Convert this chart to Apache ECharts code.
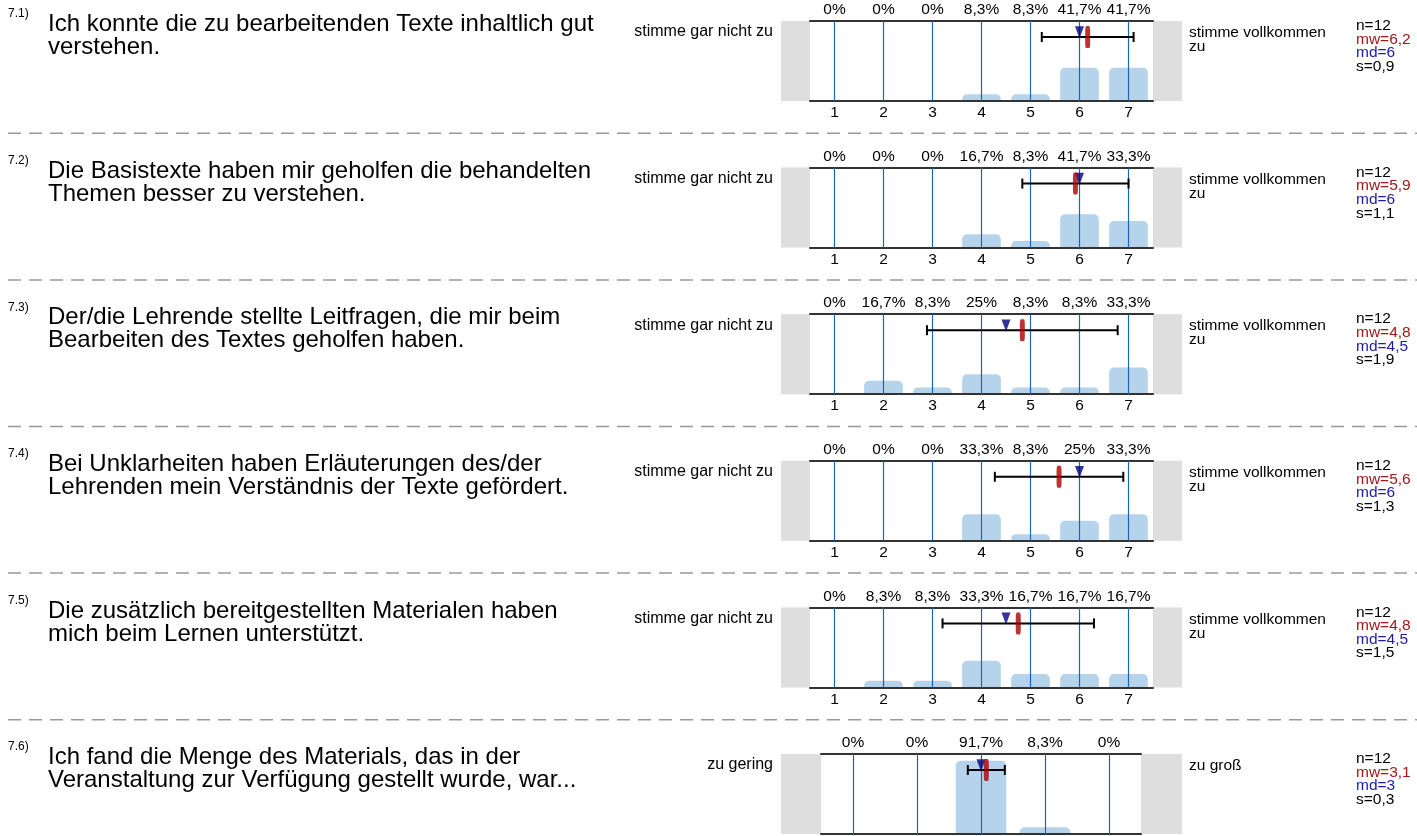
<!DOCTYPE html>
<html>
<head>
<meta charset="utf-8">
<script src="https://cdn.jsdelivr.net/npm/echarts@6/dist/echarts.min.js"></script>
<style>
  html, body { margin: 0; padding: 0; background: #fff; }
  #chart { width: 1417px; height: 836px; }
</style>
</head>
<body>
<div id="chart"></div>
<script>
// Daten
var scale7 = ["1", "2", "3", "4", "5", "6", "7"];
var scale5 = ["1", "2", "3", "4", "5"];

var itemNo = ["7.1)", "7.2)", "7.3)", "7.4)", "7.5)", "7.6)"];
var questions = [
  "Ich konnte die zu bearbeitenden Texte inhaltlich gut\nverstehen.",
  "Die Basistexte haben mir geholfen die behandelten\nThemen besser zu verstehen.",
  "Der/die Lehrende stellte Leitfragen, die mir beim\nBearbeiten des Textes geholfen haben.",
  "Bei Unklarheiten haben Erläuterungen des/der\nLehrenden mein Verständnis der Texte gefördert.",
  "Die zusätzlich bereitgestellten Materialen haben\nmich beim Lernen unterstützt.",
  "Ich fand die Menge des Materials, das in der\nVeranstaltung zur Verfügung gestellt wurde, war..."
];
var leftLabels = ["stimme gar nicht zu", "stimme gar nicht zu", "stimme gar nicht zu",
  "stimme gar nicht zu", "stimme gar nicht zu", "zu gering"];
var rightLabels = ["stimme vollkommen\nzu", "stimme vollkommen\nzu", "stimme vollkommen\nzu",
  "stimme vollkommen\nzu", "stimme vollkommen\nzu", "zu groß"];

// Prozentwerte je Antwortstufe
var pct1 = [0, 0, 0, 8.3, 8.3, 41.7, 41.7];
var pct2 = [0, 0, 0, 16.7, 8.3, 41.7, 33.3];
var pct3 = [0, 16.7, 8.3, 25, 8.3, 8.3, 33.3];
var pct4 = [0, 0, 0, 33.3, 8.3, 25, 33.3];
var pct5 = [0, 8.3, 8.3, 33.3, 16.7, 16.7, 16.7];
var pct6 = [0, 0, 91.7, 8.3, 0];

var nValues = [12, 12, 12, 12, 12, 12];
var means = [6.167, 5.917, 4.833, 5.583, 4.75, 3.083];
var medians = [6, 6, 4.5, 6, 4.5, 3];
var sds = [0.937, 1.084, 1.946, 1.311, 1.545, 0.289];

var pcts = [pct1, pct2, pct3, pct4, pct5, pct6];
var cats = [scale7, scale7, scale7, scale7, scale7, scale5];

// Layout
var FONT = "'Liberation Sans', Arial, sans-serif";
var SMALL = 15.5;
var rowTop0 = 21, rowStep = 146.6, plotH = 80;
var boxLeft = 781, boxRight = 1182;
var gridPos7 = { left: 810, width: 343 };
var gridPos5 = { left: 821, width: 320 };

function comma(v) {
  return String(v).replace(".", ",");
}

var grids = [], xAxes = [], yAxes = [], series = [], graphics = [];

pcts.forEach(function (pct, i) {
  var top = rowTop0 + i * rowStep;
  var pos = cats[i].length === 7 ? gridPos7 : gridPos5;
  var mean = means[i], sd = sds[i];

  grids.push({
    left: pos.left, width: pos.width, top: top, height: plotH,
    outerBoundsMode: "none", containLabel: false
  });

  var frameLine = { show: true, onZero: false, lineStyle: { color: "#333", width: 2 } };
  // unten: Skala 1..n, senkrechte Linien als lange Ticks
  xAxes.push({
    type: "category", gridIndex: i, position: "bottom", data: cats[i], z: 3,
    axisLine: frameLine,
    axisTick: {
      show: true, inside: true, alignWithLabel: true, interval: 0, length: plotH,
      lineStyle: { color: "#1c64b8", width: 1.2 }
    },
    splitLine: { show: false },
    axisLabel: { interval: 0, margin: 4, fontSize: SMALL, color: "#000", fontFamily: FONT }
  });
  // oben: Prozentwerte
  xAxes.push({
    type: "category", gridIndex: i, position: "top", z: 3,
    data: pct.map(function (v) { return comma(v) + "%"; }),
    axisLine: frameLine, axisTick: { show: false }, splitLine: { show: false },
    axisLabel: { interval: 0, margin: 3, fontSize: SMALL, color: "#000", fontFamily: FONT }
  });
  xAxes.push({
    type: "value", gridIndex: i, show: false,
    min: 0.5, max: cats[i].length + 0.5, splitLine: { show: false }
  });
  yAxes.push({ type: "value", gridIndex: i, min: 0, max: 100, show: false });

  var xa = i * 3;
  series.push({
    type: "bar", xAxisIndex: xa, yAxisIndex: i, data: pct,
    barWidth: "79%", silent: true, z: 2,
    itemStyle: { color: "#b5d4ec", borderRadius: [5, 5, 0, 0] }
  });
  // Standardabweichung
  series.push({
    type: "line", xAxisIndex: xa + 2, yAxisIndex: i, z: 4, silent: true,
    data: [[mean - sd, 80], [mean + sd, 80]],
    symbol: "rect", symbolSize: [2, 10], showSymbol: true,
    lineStyle: { color: "#000", width: 2 }, itemStyle: { color: "#000" }
  });
  // Median
  series.push({
    type: "scatter", xAxisIndex: xa + 2, yAxisIndex: i, z: 5, silent: true,
    data: [[medians[i], 86]], symbol: "triangle", symbolRotate: 180,
    symbolSize: [9, 12], itemStyle: { color: "#000080" }
  });
  // Mittelwert
  series.push({
    type: "scatter", xAxisIndex: xa + 2, yAxisIndex: i, z: 6, silent: true,
    data: [[mean, 80]], symbol: "roundRect", symbolSize: [5, 22],
    itemStyle: { color: "#aa0000" }
  });

  // graue Kästen links/rechts
  graphics.push({
    type: "rect", z: 0, silent: true,
    shape: { x: boxLeft, y: top, width: pos.left - boxLeft, height: plotH },
    style: { fill: "#dedede" }
  });
  graphics.push({
    type: "rect", z: 0, silent: true,
    shape: { x: pos.left + pos.width, y: top, width: boxRight - pos.left - pos.width, height: plotH },
    style: { fill: "#dedede" }
  });

  // Texte
  graphics.push({
    type: "text", x: 8, y: top - 13,
    style: { text: itemNo[i], fontSize: 12, fontFamily: FONT, fill: "#000", verticalAlign: "top" }
  });
  graphics.push({
    type: "text", x: 48, y: top - 8,
    style: { text: questions[i], fontSize: 24, lineHeight: 23, fontFamily: FONT, fill: "#000", verticalAlign: "top" }
  });
  graphics.push({
    type: "text", x: 773, y: top + 11,
    style: { text: leftLabels[i], fontSize: 16, fontFamily: FONT, fill: "#000", align: "right", verticalAlign: "middle" }
  });
  graphics.push({
    type: "text", x: 1189, y: top + 5,
    style: { text: rightLabels[i], fontSize: SMALL, lineHeight: 14, fontFamily: FONT, fill: "#000", verticalAlign: "top" }
  });

  var stats = [
    ["n=" + nValues[i], "#000"],
    ["mw=" + comma(mean.toFixed(1)), "#a01818"],
    ["md=" + comma(medians[i]), "#1c1ca8"],
    ["s=" + comma(sd.toFixed(1)), "#000"]
  ];
  stats.forEach(function (s, k) {
    graphics.push({
      type: "text", x: 1356, y: top + 5 + k * 13.6,
      style: { text: s[0], fontSize: SMALL, fontFamily: FONT, fill: s[1], verticalAlign: "middle" }
    });
  });

  // gestrichelte Trennlinie
  if (i < pcts.length - 1) {
    var ly = top + 112.3;
    graphics.push({
      type: "line", silent: true,
      shape: { x1: 8, y1: ly, x2: 1417, y2: ly },
      style: { stroke: "#999", lineWidth: 1.5, lineDash: [13, 8] }
    });
  }
});

var chart = echarts.init(document.getElementById("chart"));
chart.setOption({
  animation: false,
  backgroundColor: "#fff",
  grid: grids,
  xAxis: xAxes,
  yAxis: yAxes,
  series: series,
  graphic: graphics
});
</script>
</body>
</html>
